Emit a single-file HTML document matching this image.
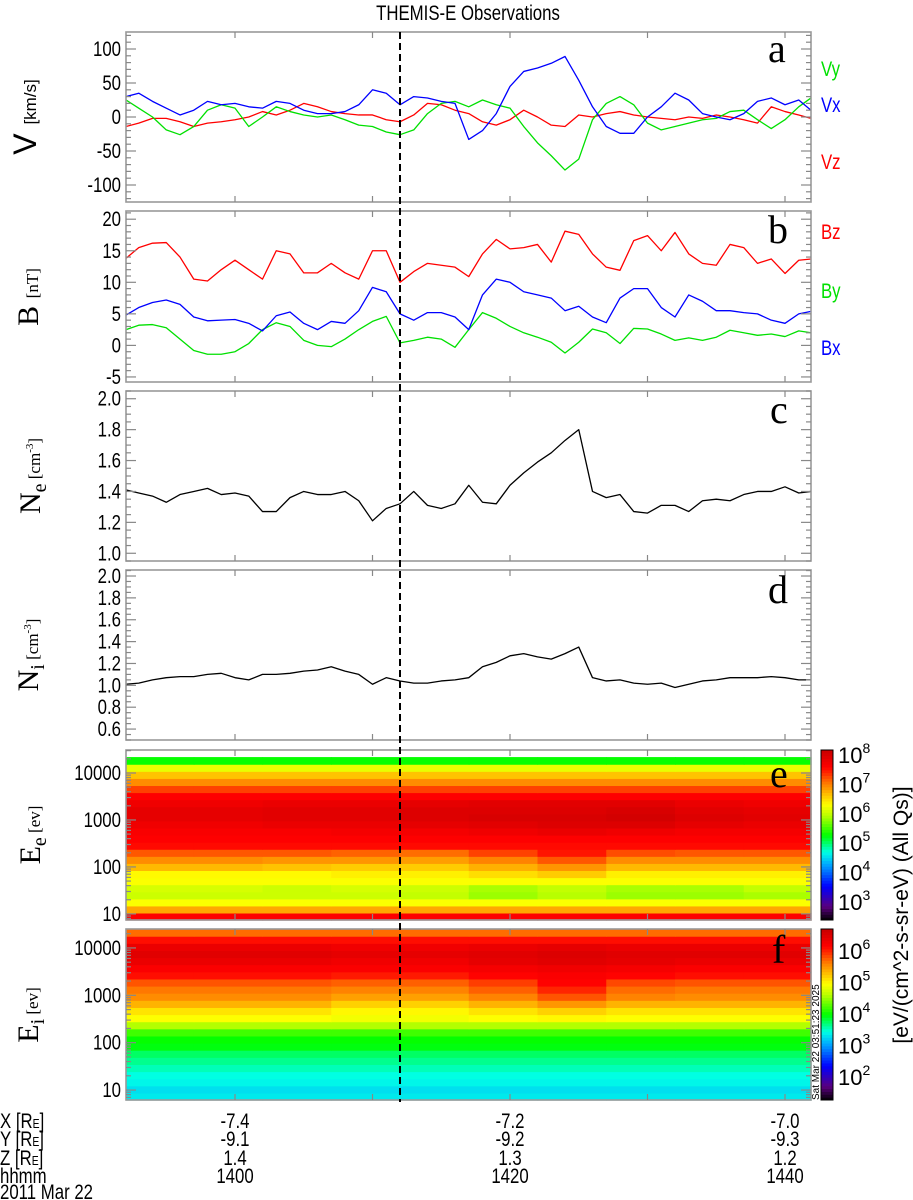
<!DOCTYPE html>
<html><head><meta charset="utf-8"><title>THEMIS-E Observations</title>
<style>
html,body{margin:0;padding:0;background:#fff;}
svg{display:block;}
.tk{font-family:"Liberation Sans Narrow","Liberation Sans",sans-serif;font-size:21px;fill:#000;}
.sf{font-family:"Liberation Serif",serif;fill:#000;}
.ss{font-family:"Liberation Sans",sans-serif;fill:#000;}
</style></head>
<body>
<svg id="fig" width="913" height="1200" viewBox="0 0 913 1200" xmlns="http://www.w3.org/2000/svg">
<text class="tk" x="468" y="20" text-anchor="middle" font-size="22">THEMIS-E Observations</text>
<g id="layer-spec"></g>
<g id="layer-lines"></g>
<g id="layer-axes"></g>

<g transform="translate(36,117) rotate(-90)"><text class="ss" text-anchor="middle" font-size="32">V <tspan font-size="17">[km/s]</tspan></text></g>
<g transform="translate(38,297) rotate(-90)"><text class="sf" text-anchor="middle" font-size="30">B <tspan font-size="17">[nT]</tspan></text></g>
<g transform="translate(40,476) rotate(-90)"><text class="sf" text-anchor="middle" font-size="30">N<tspan font-size="20" dy="6">e</tspan><tspan font-size="17" dy="-6"> [cm</tspan><tspan font-size="11" dy="-7">-3</tspan><tspan font-size="17" dy="7">]</tspan></text></g>
<g transform="translate(38,655) rotate(-90)"><text class="sf" text-anchor="middle" font-size="30">N<tspan font-size="20" dy="6">i</tspan><tspan font-size="17" dy="-6"> [cm</tspan><tspan font-size="11" dy="-7">-3</tspan><tspan font-size="17" dy="7">]</tspan></text></g>
<g transform="translate(40,835) rotate(-90)"><text class="sf" text-anchor="middle" font-size="30">E<tspan font-size="20" dy="6">e</tspan><tspan font-size="17" dy="-6"> [ev]</tspan></text></g>
<g transform="translate(38,1015) rotate(-90)"><text class="sf" text-anchor="middle" font-size="30">E<tspan font-size="20" dy="6">i</tspan><tspan font-size="17" dy="-6"> [ev]</tspan></text></g>

<text class="tk" x="821" y="76" style="fill:#00e000">Vy</text>
<text class="tk" x="821" y="112" style="fill:#0000ff">Vx</text>
<text class="tk" x="821" y="169" style="fill:#ff0000">Vz</text>
<text class="tk" x="821" y="239" style="fill:#ff0000">Bz</text>
<text class="tk" x="821" y="298" style="fill:#00e000">By</text>
<text class="tk" x="821" y="355" style="fill:#0000ff">Bx</text>

<text class="sf" x="768" y="62" font-size="40">a</text>
<text class="sf" x="768" y="243" font-size="40">b</text>
<text class="sf" x="770" y="423" font-size="40">c</text>
<text class="sf" x="768" y="603" font-size="40">d</text>
<text class="sf" x="770" y="787" font-size="40">e</text>
<text class="sf" x="772" y="963" font-size="40">f</text>

<g transform="translate(908,915) rotate(-90)"><text class="ss" text-anchor="middle" font-size="21">[eV/(cm^2-s-sr-eV) (All Qs)]</text></g>
<g transform="translate(819,1100) rotate(-90)"><text class="ss" font-size="10">Sat Mar 22 03:51:23 2025</text></g>

<g>
<text class="tk" x="0" y="1128">X [R<tspan font-size="13">E</tspan>]</text>
<text class="tk" x="0" y="1146">Y [R<tspan font-size="13">E</tspan>]</text>
<text class="tk" x="0" y="1165">Z [R<tspan font-size="13">E</tspan>]</text>
<text class="tk" x="0" y="1183">hhmm</text>
<text class="tk" x="0" y="1199">2011 Mar 22</text>
</g>
<g id="layer-orbit"></g>
</svg>

<script>
const minutes = [-8,-7,-6,-5,-4,-3,-2,-1,0,1,2,3,4,5,6,7,8,9,10,11,12,13,14,15,16,17,18,19,20,21,22,23,24,25,26,27,28,29,30,31,32,33,34,35,36,37,38,39,40,41,42];
const vx = [30,35,23,13,3,10,23,18,20,15,13,23,20,10,5,5,8,18,40,35,18,30,28,23,20,-33,-20,5,45,67,72,79,89,54,15,-14,-24,-24,0,15,35,25,5,0,-4,5,23,28,18,25,10];
const vy = [25,13,0,-19,-26,-14,10,18,13,-14,0,15,8,3,0,3,-4,-12,-14,-22,-26,-19,5,20,23,15,25,18,13,-14,-38,-57,-78,-62,-4,20,30,18,-9,-19,-14,-9,-4,-2,8,10,-4,-17,-4,15,28];
const vz = [-14,-9,-2,-2,-7,-14,-9,-7,-4,0,8,3,10,20,15,8,5,3,3,-4,-7,3,20,18,10,5,-7,-12,-4,10,0,-12,-14,3,0,5,8,3,0,-2,-4,0,-2,3,0,-4,-9,15,8,3,-2];
const bz = [13.8,15.5,16.2,16.3,14,10.5,10.2,12,13.5,12,10.5,15,14.5,11.5,11.5,13,11.5,10.5,15,15,10,11.7,13,12.7,12.4,10.9,14.5,16.8,15.3,15.5,16,13.2,18.1,17.6,14.5,12.4,11.9,16.6,17.4,15,17.9,14.5,13,12.7,16,15.5,13,13.7,11.4,13.5,13.7];
const bBlue = [4.8,6,6.8,7.2,6.5,4.5,3.9,4,4.1,3.5,2.3,4.7,5.3,3.5,2.5,3.8,3.5,5.5,9.2,8.5,5,4,5.2,5.2,4.5,2.5,8,10.5,10,8.5,8,7.5,5.5,6.2,4.5,3.6,7.5,9,9,6,4.5,8,7,5.5,5.5,5.2,5,4,3.5,5,5.4];
const bGreen = [2.5,3.2,3.3,2.8,1,-0.8,-1.4,-1.4,-1,0.3,2.5,3.6,3,0.8,0,-0.2,1,2.5,3.8,4.6,0.4,0.8,1.3,1,-0.3,2.5,5.2,4.3,3,2,1.3,0.5,-1.2,0.5,2.6,2,0.3,2.7,2.6,1.8,0.8,1.2,0.8,1.3,2.4,2,1.6,1.8,1.4,2.3,2];
const ne = [1.41,1.39,1.37,1.33,1.38,1.40,1.42,1.38,1.39,1.37,1.27,1.27,1.36,1.40,1.38,1.38,1.40,1.34,1.21,1.29,1.32,1.40,1.31,1.29,1.32,1.44,1.33,1.32,1.44,1.52,1.59,1.65,1.73,1.80,1.40,1.36,1.38,1.27,1.26,1.31,1.31,1.27,1.34,1.35,1.34,1.38,1.40,1.40,1.43,1.39,1.40];
const ni = [1.01,1.02,1.05,1.07,1.08,1.08,1.10,1.11,1.07,1.05,1.10,1.10,1.11,1.13,1.14,1.17,1.13,1.10,1.01,1.07,1.04,1.02,1.02,1.04,1.05,1.07,1.17,1.21,1.27,1.29,1.26,1.24,1.29,1.35,1.07,1.04,1.05,1.02,1.01,1.02,0.98,1.01,1.04,1.05,1.07,1.07,1.07,1.08,1.07,1.05,1.05];

const specEdges = [-8,-3,2,7,12,17,22,27,32,37,42];
const eFlux = [
 [7.6,7.6,7.6,7.6,7.6,7.6,7.6,7.6,7.6,7.6],
 [6.8,6.8,6.8,6.8,6.8,6.8,6.8,6.8,6.8,6.8],
 [6.3,6.3,6.3,6.3,6.3,6.3,6.3,6.3,6.3,6.3],
 [6.05,6.05,6.05,6.05,6.0,5.85,5.95,5.85,5.85,5.9],
 [6.1,6.1,6.05,6.1,6.05,5.9,6.0,5.9,5.9,6.0],
 [6.3,6.3,6.3,6.3,6.3,6.3,6.3,6.3,6.3,6.3],
 [6.35,6.35,6.35,6.4,6.4,6.5,6.6,6.4,6.4,6.4],
 [6.7,6.7,6.65,6.6,6.6,6.75,6.9,6.7,6.7,6.7],
 [6.95,6.95,6.9,6.9,6.85,7.0,7.2,6.95,6.95,6.95],
 [7.2,7.2,7.2,7.15,7.1,7.3,7.5,7.25,7.2,7.2],
 [7.55,7.55,7.55,7.55,7.55,7.55,7.55,7.55,7.55,7.55],
 [7.6,7.6,7.6,7.6,7.6,7.6,7.6,7.6,7.6,7.6],
 [7.65,7.65,7.65,7.7,7.7,7.75,7.8,7.75,7.7,7.7],
 [7.75,7.75,7.8,7.8,7.85,7.9,7.95,7.95,7.85,7.8],
 [7.85,7.85,7.9,7.9,7.95,8.0,8.0,8.05,7.95,7.9],
 [7.85,7.85,7.9,7.9,7.95,7.95,7.95,8.0,7.9,7.85],
 [7.75,7.75,7.8,7.8,7.85,7.9,7.9,7.9,7.8,7.75],
 [7.6,7.6,7.6,7.6,7.6,7.6,7.6,7.6,7.6,7.6],
 [7.3,7.3,7.3,7.3,7.3,7.3,7.3,7.3,7.3,7.3],
 [6.95,6.95,6.95,6.95,6.95,6.95,6.95,6.95,6.95,6.95],
 [6.65,6.65,6.65,6.65,6.65,6.65,6.65,6.65,6.65,6.65],
 [6.2,6.2,6.2,6.2,6.2,6.2,6.2,6.2,6.2,6.2],
 [5.3,5.3,5.3,5.3,5.3,5.3,5.3,5.3,5.3,5.3],
 [null,null,null,null,null,null,null,null,null,null]
];
const iFlux = [
 [3.35,3.35,3.35,3.35,3.35,3.35,3.35,3.35,3.35,3.35],
 [3.3,3.3,3.3,3.3,3.3,3.3,3.3,3.3,3.3,3.3],
 [3.4,3.4,3.4,3.4,3.4,3.4,3.4,3.4,3.4,3.4],
 [3.45,3.45,3.45,3.45,3.45,3.45,3.45,3.45,3.45,3.45],
 [3.55,3.55,3.55,3.55,3.55,3.55,3.55,3.55,3.55,3.55],
 [3.65,3.65,3.65,3.65,3.65,3.65,3.65,3.65,3.65,3.65],
 [3.75,3.75,3.75,3.75,3.75,3.75,3.75,3.75,3.75,3.75],
 [3.95,3.95,3.95,3.95,3.95,3.95,3.95,3.95,3.95,3.95],
 [4.0,4.0,4.0,4.0,4.0,4.0,4.0,4.0,4.0,4.0],
 [4.2,4.2,4.2,4.2,4.2,4.2,4.2,4.2,4.2,4.2],
 [4.6,4.6,4.6,4.6,4.6,4.6,4.6,4.6,4.6,4.6],
 [4.95,4.95,4.95,4.9,4.9,4.95,5.0,4.95,4.95,4.95],
 [5.1,5.1,5.1,5.0,5.0,5.1,5.2,5.1,5.1,5.1],
 [5.35,5.35,5.35,5.2,5.2,5.35,5.5,5.35,5.35,5.35],
 [5.55,5.55,5.55,5.45,5.45,5.6,5.8,5.6,5.55,5.55],
 [5.65,5.65,5.65,5.6,5.6,5.75,6.0,5.7,5.65,5.65],
 [5.8,5.8,5.8,5.75,5.75,5.9,6.15,5.85,5.8,5.8],
 [6.1,6.1,6.1,6.05,6.05,6.15,6.2,6.15,6.1,6.1],
 [6.2,6.2,6.2,6.2,6.2,6.25,6.3,6.25,6.2,6.2],
 [6.35,6.35,6.35,6.3,6.3,6.4,6.45,6.4,6.35,6.35],
 [6.45,6.45,6.45,6.4,6.4,6.45,6.5,6.45,6.45,6.45],
 [6.35,6.35,6.35,6.3,6.3,6.35,6.4,6.35,6.35,6.35],
 [6.1,6.1,6.1,6.1,6.1,6.1,6.1,6.1,6.1,6.1],
 [5.7,5.7,5.7,5.7,5.7,5.7,5.7,5.7,5.7,5.7]
];
const xTickMinutes = [0,10,20,30,40];
const orbitMinutes = [0,20,40];
const orbitX = ["-7.4","-7.2","-7.0"];
const orbitY = ["-9.1","-9.2","-9.3"];
const orbitZ = ["1.4","1.3","1.2"];
const orbitHHMM = ["1400","1420","1440"];
const eventMinute = 12;
const eColorTicks = [3,4,5,6,7,8];
const iColorTicks = [2,3,4,5,6];

const NS = "http://www.w3.org/2000/svg";
const X0 = 126, X1 = 811;
const px = m => 235 + 13.75 * m;
const panels = {
  a:{top:32,bot:202,min:-125,max:125,ticks:[-100,-50,0,50,100],minor:10,fmt:v=>String(v)},
  b:{top:211,bot:382,min:-5.8,max:21.3,ticks:[-5,0,5,10,15,20],minor:1,fmt:v=>String(v)},
  c:{top:391,bot:561,min:0.95,max:2.05,ticks:[1.0,1.2,1.4,1.6,1.8,2.0],minor:0.05,fmt:v=>v.toFixed(1)},
  d:{top:570,bot:740,min:0.5,max:2.055,ticks:[0.6,0.8,1.0,1.2,1.4,1.6,1.8,2.0],minor:0.05,fmt:v=>v.toFixed(1)},
  e:{top:750,bot:920,min:0.87,max:4.49,log:true,ticks:[1,2,3,4]},
  f:{top:929,bot:1100,min:0.79,max:4.40,log:true,ticks:[1,2,3,4]}
};
const yOf = (p,v) => p.bot - (v - p.min) / (p.max - p.min) * (p.bot - p.top);
function mk(tag, attrs, parent){ const el=document.createElementNS(NS,tag); for(const k in attrs) el.setAttribute(k,attrs[k]); parent.appendChild(el); return el; }

const cmapStops=[[0,[0,0,0]],[0.08,[90,0,127]],[0.2,[0,0,255]],[0.33,[0,170,255]],[0.4,[0,255,230]],[0.5,[0,255,0]],[0.62,[190,255,0]],[0.68,[255,255,0]],[0.8,[255,128,0]],[0.9,[255,0,0]],[1,[200,0,0]]];
function cmap(f){ f=Math.max(0,Math.min(1,f)); for(let i=1;i<cmapStops.length;i++){ const [f1,c1]=cmapStops[i]; const [f0,c0]=cmapStops[i-1]; if(f<=f1){ const t=(f-f0)/(f1-f0); return `rgb(${c0.map((c,j)=>Math.round(c+(c1[j]-c)*t)).join(',')})`; } } return 'rgb(200,0,0)'; }

const specL = document.getElementById('layer-spec');
function drawSpec(p, flux, cmin, cmax, name){
  const g = mk('g',{},specL);
  
  
  const nb = flux.length, dl = (p.max-p.min)/nb;
  flux.forEach((row,k)=>{
    const lo=p.min+k*dl, hi=lo+dl;
    const y1=yOf(p,hi), y0=yOf(p,lo);
    row.forEach((v,c)=>{
      if(v===null) return;
      const xa=Math.max(X0,px(specEdges[c])), xb=Math.min(X1,px(specEdges[c+1]));
      const r = mk('rect',{x:xa.toFixed(2),y:y1.toFixed(2),width:(xb-xa+0.6).toFixed(2),height:(y0-y1+0.6).toFixed(2),fill:cmap((v-cmin)/(cmax-cmin))},g);
      
      
    });
  });
}
drawSpec(panels.e, eFlux, 2.39, 8.17, 'electron-spectrogram');
drawSpec(panels.f, iFlux, 1.27, 6.70, 'ion-spectrogram');

function drawCbar(p, cmin, cmax, ticks, name){
  const g = mk('g',{},specL);
  
  
  const n=60, h=(p.bot-p.top)/n;
  for(let i=0;i<n;i++){ mk('rect',{x:821,y:(p.bot-(i+1)*h).toFixed(2),width:12,height:(h+0.5).toFixed(2),fill:cmap((i+0.5)/n)},g); }
  mk('rect',{x:821,y:p.top,width:12,height:p.bot-p.top,fill:'none',stroke:'#000','stroke-width':1},g);
  ticks.forEach(t=>{
    const y=p.bot-(t-cmin)/(cmax-cmin)*(p.bot-p.top);
    const tx=mk('text',{x:838,y:(y+8).toFixed(1),class:'ss','font-size':22},g);
    
    
    tx.textContent='10';
    const s=mk('tspan',{'font-size':14,dy:-10},tx); s.textContent=String(t);
  });
}
drawCbar(panels.e, 2.39, 8.17, eColorTicks, 'electron-colorbar');
drawCbar(panels.f, 1.27, 6.70, iColorTicks, 'ion-colorbar');

const lineL = document.getElementById('layer-lines');
function drawLine(p, vals, color, name){
  const d = vals.map((v,i)=>(i?'L':'M')+Math.max(X0,Math.min(X1,px(minutes[i]))).toFixed(2)+','+yOf(p,v).toFixed(2)).join('');
  const el = mk('path',{d:d,fill:'none',stroke:color,'stroke-width':1.3,'stroke-linejoin':'round'},lineL);
  
  
}
drawLine(panels.a, vz, '#ff0000', 'vz-line');
drawLine(panels.a, vy, '#00e000', 'vy-line');
drawLine(panels.a, vx, '#0000ff', 'vx-line');
drawLine(panels.b, bGreen, '#00e000', 'by-line');
drawLine(panels.b, bBlue, '#0000ff', 'bx-line');
drawLine(panels.b, bz, '#ff0000', 'bz-line');
drawLine(panels.c, ne, '#000000', 'ne-line');
drawLine(panels.d, ni, '#000000', 'ni-line');

const axL = document.getElementById('layer-axes');
Object.keys(panels).forEach(key=>{
  const p = panels[key];
  const g = mk('g',{},axL);
  
  
  mk('rect',{x:X0,y:p.top,width:X1-X0,height:p.bot-p.top,fill:'none',stroke:'#999','stroke-width':1.6},g);
  xTickMinutes.forEach(m=>{
    mk('line',{x1:px(m),x2:px(m),y1:p.top,y2:p.top+6,stroke:'#888','stroke-width':1.2},g);
    mk('line',{x1:px(m),x2:px(m),y1:p.bot,y2:p.bot-6,stroke:'#888','stroke-width':1.2},g);
  });
  if(p.log){
    for(let dcd=0; dcd<5; dcd++) for(let k=1;k<10;k++){
      const lv=dcd+Math.log10(k); if(lv<p.min||lv>p.max) continue;
      const y=yOf(p,lv), L=(k===1)?10:5;
      mk('line',{x1:X0,x2:X0+L,y1:y,y2:y,stroke:'#888','stroke-width':1.2},g);
      mk('line',{x1:X1,x2:X1-L,y1:y,y2:y,stroke:'#888','stroke-width':1.2},g);
    }
    p.ticks.forEach(t=>{
      const tx=mk('text',{x:121,y:(yOf(p,t)+7).toFixed(1),class:'tk','text-anchor':'end'},g);
      
      
      tx.textContent=String(Math.pow(10,t));
    });
  } else {
    const s0=Math.ceil(p.min/p.minor-1e-6);
    for(let i=s0; i*p.minor<=p.max+1e-9; i++){
      const v=i*p.minor, y=yOf(p,v);
      const major=p.ticks.some(t=>Math.abs(t-v)<1e-6), L=major?10:5;
      mk('line',{x1:X0,x2:X0+L,y1:y,y2:y,stroke:'#888','stroke-width':1.2},g);
      mk('line',{x1:X1,x2:X1-L,y1:y,y2:y,stroke:'#888','stroke-width':1.2},g);
    }
    p.ticks.forEach(t=>{
      const tx=mk('text',{x:121,y:(yOf(p,t)+7).toFixed(1),class:'tk','text-anchor':'end'},g);
      
      
      tx.textContent=p.fmt(t);
    });
  }
});
const ev = mk('line',{x1:px(eventMinute),x2:px(eventMinute),y1:32,y2:1102,stroke:'#000','stroke-width':2,'stroke-dasharray':'7,4'},axL);



const orbL = document.getElementById('layer-orbit');
[[orbitX,1128],[orbitY,1146],[orbitZ,1165],[orbitHHMM,1183]].forEach(([arr,y])=>{
  arr.forEach((s,i)=>{
    const tx=mk('text',{x:px(orbitMinutes[i]),y:y,class:'tk','text-anchor':'middle'},orbL);
    
    
    tx.textContent=s;
  });
});

// condense narrow-style labels horizontally
document.querySelectorAll('text.tk').forEach(t=>{
  const x=parseFloat(t.getAttribute('x')), y=parseFloat(t.getAttribute('y'));
  t.setAttribute('transform', `translate(${x},${y}) scale(0.8,1) translate(${-x},${-y})`);
});
</script>
</body></html>
